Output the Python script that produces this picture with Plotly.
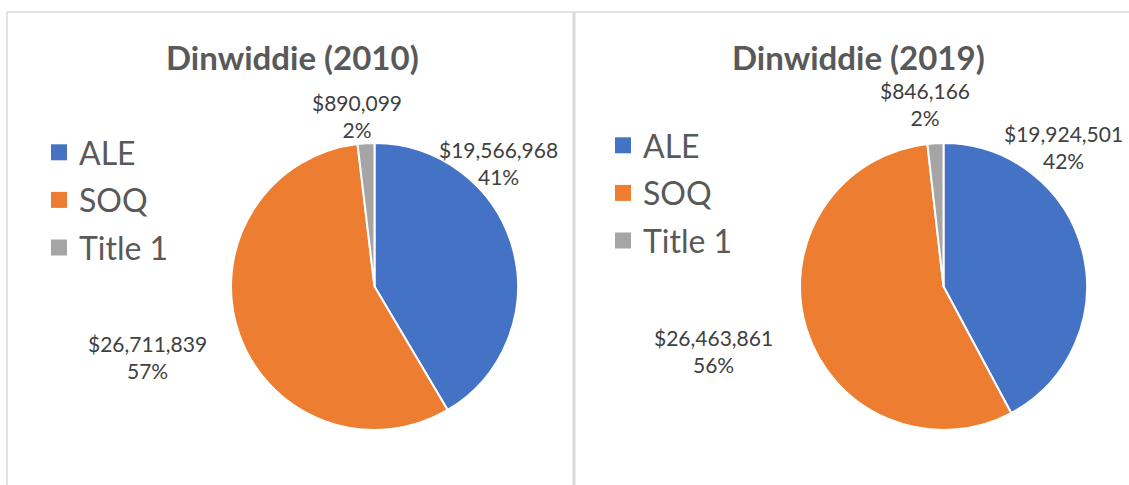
import plotly.graph_objects as go

W, H = 1129, 485

categories = ["ALE", "SOQ", "Title 1"]
values_2010 = [19566968, 26711839, 890099]
values_2019 = [19924501, 26463861, 846166]
titles = ["Dinwiddie (2010)", "Dinwiddie (2019)"]
colors = ["#4472C4", "#ED7D31", "#A5A5A5"]

FONT = "Lato"


def px(x):
    return x / W


def py(y):
    return 1 - y / H


def pct_labels(vals):
    tot = sum(vals)
    return [f"${v:,.0f}<br>{round(100 * v / tot)}%" for v in vals]


fig = go.Figure()

# pie domains (pixel boxes)
pie_boxes = [(231, 518, 143, 430), (800, 1087, 143, 430)]
all_vals = [values_2010, values_2019]
legends = ["legend", "legend2"]

for i, vals in enumerate(all_vals):
    x0, x1, y0, y1 = pie_boxes[i]
    fig.add_trace(go.Pie(
        labels=categories, values=vals, sort=False, direction="clockwise",
        rotation=0, textinfo="none", hoverinfo="label+value+percent",
        marker=dict(colors=colors, line=dict(color="white", width=2)),
        domain=dict(x=[px(x0), px(x1)], y=[py(y1), py(y0)]),
        showlegend=False,
    ))
    # legend entries (one legend per chart)
    for cat, col in zip(categories, colors):
        fig.add_trace(go.Scatter(
            x=[None], y=[None], mode="markers", name=cat,
            marker=dict(symbol="square", size=16, color=col),
            legend=legends[i], legendgroup=f"{legends[i]}-{cat}",
            showlegend=True, hoverinfo="skip",
        ))

# data label positions (pixel centers)
label_pos = [
    [(498, 163), (147, 357), (357, 116)],
    [(1063, 147), (713, 351), (925, 104)],
]
annotations = []
for i, vals in enumerate(all_vals):
    for (lx, ly), txt in zip(label_pos[i], pct_labels(vals)):
        annotations.append(dict(
            x=px(lx), y=py(ly), xref="paper", yref="paper", text=txt,
            showarrow=False, xanchor="center", yanchor="middle",
            font=dict(family=FONT, size=21, color="#404040"), align="center",
        ))

title_pos = [(292, 57), (858, 57)]
for (tx, ty), t in zip(title_pos, titles):
    annotations.append(dict(
        x=px(tx), y=py(ty), xref="paper", yref="paper", text=f"<b>{t}</b>",
        showarrow=False, xanchor="center", yanchor="middle",
        font=dict(family=FONT, size=33, color="#595959"),
    ))

line_col = "#D9D9D9"
shapes = [
    dict(type="line", xref="paper", yref="paper", x0=px(7), x1=1, y0=py(12), y1=py(12),
         line=dict(color=line_col, width=1.5)),
    dict(type="line", xref="paper", yref="paper", x0=px(7), x1=px(7), y0=0, y1=py(12),
         line=dict(color=line_col, width=1.5)),
    dict(type="line", xref="paper", yref="paper", x0=px(574), x1=px(574), y0=0, y1=py(12),
         line=dict(color=line_col, width=3)),
]

leg_font = dict(family=FONT, size=32, color="#595959")
fig.update_layout(
    width=W, height=H,
    margin=dict(l=0, r=0, t=0, b=0),
    paper_bgcolor="white", plot_bgcolor="white",
    annotations=annotations, shapes=shapes,
    xaxis=dict(visible=False), yaxis=dict(visible=False),
    legend=dict(x=px(39), y=py(200), xanchor="left", yanchor="middle",
                font=leg_font, bgcolor="rgba(0,0,0,0)", tracegroupgap=3),
    legend2=dict(x=px(603), y=py(193), xanchor="left", yanchor="middle",
                 font=leg_font, bgcolor="rgba(0,0,0,0)", tracegroupgap=3),
)

fig.write_html("out.html", config={"displayModeBar": False},
               post_script="document.body.style.margin='0px';")
